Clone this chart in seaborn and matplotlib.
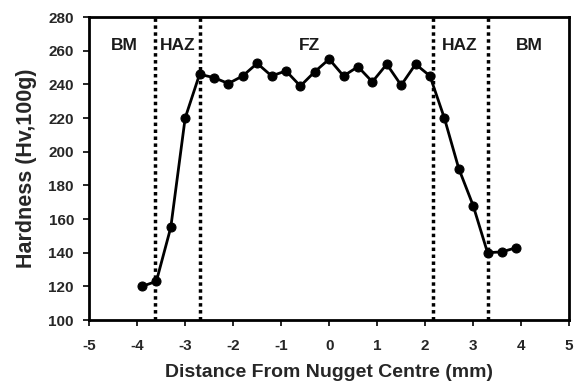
import matplotlib
matplotlib.use("Agg")
import matplotlib.pyplot as plt
import seaborn as sns
import pandas as pd

distance = [-3.9, -3.6, -3.3, -3.0, -2.7, -2.4, -2.1, -1.8, -1.5, -1.2, -0.9, -0.6, -0.3,
            0.0, 0.3, 0.6, 0.9, 1.2, 1.5, 1.8, 2.1, 2.4, 2.7, 3.0, 3.3, 3.6, 3.9]
hardness = [120, 123, 155, 220, 246, 244, 240.5, 245, 252.5, 245, 248, 239, 247.5,
            255, 245, 250.5, 241.5, 252, 239.5, 252, 245, 220, 190, 168, 140, 140.5, 143]
boundaries = [-3.62, -2.69, 2.16, 3.30]
zone_labels = ["BM", "HAZ", "FZ", "HAZ", "BM"]
zone_x = [-4.27, -3.15, -0.42, 2.71, 4.17]
zone_y = 263
x_ticks = [-5, -4, -3, -2, -1, 0, 1, 2, 3, 4, 5]
y_ticks = [100, 120, 140, 160, 180, 200, 220, 240, 260, 280]

sns.set_style("white")
plt.rcParams['font.family'] = ['Liberation Sans', 'DejaVu Sans']

df = pd.DataFrame({"Distance": distance, "Hardness": hardness})

fig = plt.figure(figsize=(5.79, 3.87), dpi=100)
ax = fig.add_axes([0.154, 0.173, 0.829, 0.783])

sns.lineplot(data=df, x="Distance", y="Hardness", ax=ax, color="black", linewidth=2,
             marker="o", markersize=6.5, markeredgecolor="black", markerfacecolor="black")

for b in boundaries:
    ax.axvline(b, color="black", linestyle=(0, (1, 1)), linewidth=2.5, zorder=1)

for lbl, xx in zip(zone_labels, zone_x):
    ax.text(xx, zone_y, lbl, ha="center", va="center", fontsize=12.5, fontweight="bold", color="#1a1a1a")

ax.set_xlim(-5, 5)
ax.set_ylim(100, 280)
ax.set_xticks(x_ticks)
ax.set_yticks(y_ticks)
ax.set_xticklabels([str(t) for t in x_ticks], fontsize=11, fontweight="bold")
ax.set_yticklabels([str(t) for t in y_ticks], fontsize=11, fontweight="bold")
ax.tick_params(axis="both", direction="out", length=4, width=1.2, color="black", bottom=True, left=True)
ax.tick_params(axis="x", pad=9.5)
ax.tick_params(axis="y", pad=7)
ax.set_xlabel("Distance From Nugget Centre (mm)", fontsize=14, fontweight="bold", labelpad=8)
ax.set_ylabel("Hardness (Hv,100g)", fontsize=15.5, fontweight="bold", labelpad=8)

for s in ax.spines.values():
    s.set_visible(True)
    s.set_color("black")
    s.set_linewidth(2)

fig.savefig("out.png", dpi=100)
